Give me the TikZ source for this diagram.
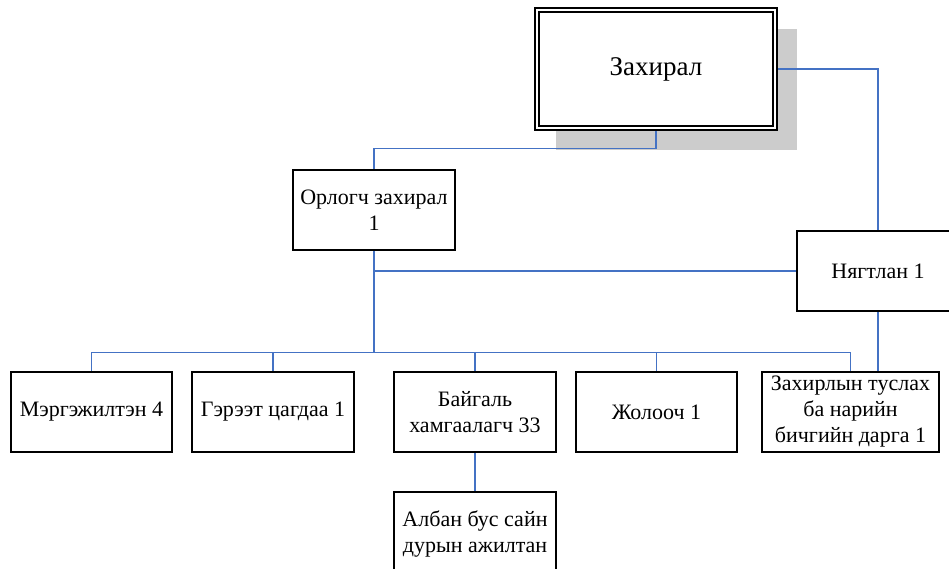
\documentclass[tikz,border=0pt]{standalone}
\usepackage{fontspec}
\setmainfont{Liberation Serif}
\usetikzlibrary{backgrounds}

\definecolor{linkblue}{RGB}{68,114,196}
\definecolor{shadowgray}{RGB}{204,204,204}

\tikzset{
	box/.style={draw, line width=1.3pt, fill=white, align=center, inner sep=2pt,
				minimum width=162pt, minimum height=80pt,
				font=\fontsize{22}{26}\selectfont},
	link/.style={draw=linkblue, line width=1.4pt},
}

\begin{document}
\begin{tikzpicture}[x=1pt, y=-1pt]
		\useasboundingbox (0,0) rectangle (949,569);

		\node[box, double, double distance=2.7pt, minimum width=238pt, minimum height=118pt,
			  font=\fontsize{27}{32}\selectfont] (zakhiral) at (656,69) {Захирал};

		\node[box] (orlogch) at (374,210) {Орлогч захирал\\1};
		\node[box] (nyagtlan) at (878,271) {Нягтлан 1};

		\node[box, minimum width=161pt] (merg) at (91.5,412) {Мэргэжилтэн 4};
		\node[box] (geree) at (273,412) {Гэрээт цагдаа 1};
		\node[box] (baigal) at (475,412) {Байгаль\\хамгаалагч 33};
		\node[box, minimum width=161pt] (joloo) at (656.5,412) {Жолооч 1};
		\node[box, minimum width=177pt] (tuslah) at (850.5,412) {Захирлын туслах\\ба нарийн\\бичгийн дарга 1};

		\node[box, minimum height=84pt] (alban) at (475,534) {Албан бус сайн\\дурын ажилтан};

		\begin{scope}[on background layer]
			\fill[shadowgray] ([shift={(20,20)}]zakhiral.north west) rectangle ([shift={(21,21)}]zakhiral.south east);

			\draw[link] (zakhiral.south) -- ++(0,20) -| (orlogch.north);
			\draw[link] (zakhiral.east) -| (nyagtlan.north);
			\draw[link] (nyagtlan.west) -- (nyagtlan.west -| orlogch.south);
			\draw[link] (nyagtlan.south) -- (nyagtlan.south |- tuslah.north);

			\foreach \n in {merg,geree,baigal,joloo,tuslah}
				\draw[link] (orlogch.south) -- ++(0,102) -| (\n.north);

			\draw[link] (baigal.south) -- (alban.north);
		\end{scope}

	\end{tikzpicture}
\end{document}
